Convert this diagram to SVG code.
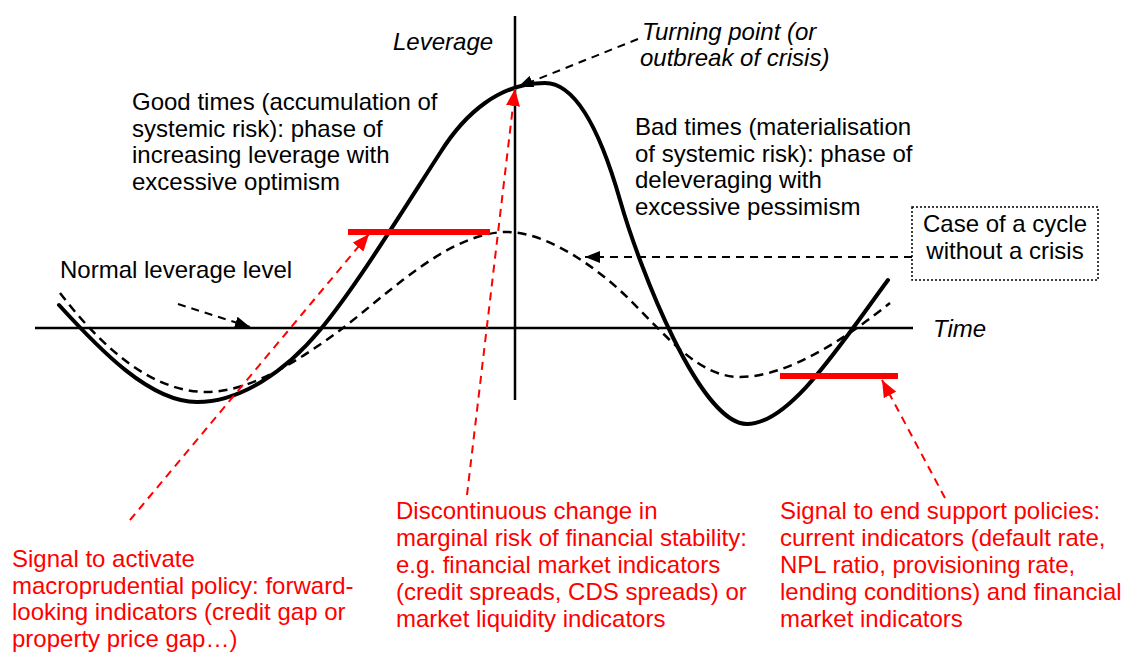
<svg xmlns="http://www.w3.org/2000/svg" width="1123" height="653" viewBox="0 0 1123 653">
<defs>
<style>
.t{font-family:"Liberation Sans",Arial,sans-serif;font-size:24px;fill:#000}
.i{font-style:italic}
.r{fill:#ff0000}
.ax{stroke:#000;stroke-width:2.5;fill:none}
.sc{stroke:#000;stroke-width:4;fill:none;stroke-linecap:round}
.dc{stroke:#000;stroke-width:2.5;fill:none;stroke-dasharray:9 6}
.bd{stroke:#000;stroke-width:2;fill:none;stroke-dasharray:8 6}
.rd{stroke:#ff0000;stroke-width:2;fill:none;stroke-dasharray:8 6}
.bar{stroke:#ff0000;stroke-width:6}
</style>
<marker id="ab" markerUnits="userSpaceOnUse" markerWidth="16" markerHeight="12" refX="15" refY="6" orient="auto"><path d="M0,0 L15,6 L0,12 z" fill="#000"/></marker>
<marker id="ar" markerUnits="userSpaceOnUse" markerWidth="18" markerHeight="14" refX="17" refY="7" orient="auto"><path d="M0,0 L17,7 L0,14 z" fill="#ff0000"/></marker>
</defs>
<rect width="1123" height="653" fill="#fff"/>
<g id="axes">
<line class="ax" x1="35" y1="328" x2="913" y2="328"/>
<line class="ax" x1="515" y1="16" x2="515" y2="400"/>
</g>
<g id="crisis-curve">
<path class="sc" d="M59,305 C100,350 150,402 197,402 C240,402 285,372 320,330 C355,288 400,215 440,153 C465,113 500,83 545,83 C575,83 600,130 620,200 C640,270 700,424 747,424 C790,424 840,345 888,280"/>
</g>
<g id="no-crisis-curve">
<path class="dc" d="M60,293 C100,345 150,392 207,392 C250,392 300,360 343,328 C390,292 450,232 507,232 C545,232 595,265 630,300 C670,340 700,377 740,377 C790,377 850,335 890,303"/>
</g>
<g id="red-bars">
<line class="bar" x1="348" y1="232" x2="490" y2="232"/>
<line class="bar" x1="780" y1="376" x2="898" y2="376"/>
</g>
<g id="connectors">
<line class="bd" x1="178" y1="304" x2="250" y2="327" marker-end="url(#ab)"/>
<line class="bd" x1="638" y1="39" x2="518" y2="87" marker-end="url(#ab)"/>
<line class="bd" x1="912" y1="257" x2="585" y2="257" marker-end="url(#ab)"/>
<line class="rd" x1="130" y1="520" x2="369" y2="234" marker-end="url(#ar)"/>
<line class="rd" x1="467" y1="495" x2="515" y2="89" marker-end="url(#ar)"/>
<line class="rd" x1="945" y1="498" x2="882" y2="380" marker-end="url(#ar)"/>
</g>
<g id="axis-labels">
<text class="t i" x="393" y="50">Leverage</text>
<text class="t i" x="933" y="337">Time</text>
</g>
<g id="turning-point">
<text class="t i" x="642" y="40">Turning point (or</text>
<text class="t i" x="640" y="66">outbreak of crisis)</text>
</g>
<g id="good-times">
<text class="t" x="132" y="110">Good times (accumulation of</text>
<text class="t" x="132" y="137">systemic risk): phase of</text>
<text class="t" x="132" y="163">increasing leverage with</text>
<text class="t" x="132" y="190">excessive optimism</text>
</g>
<g id="bad-times">
<text class="t" x="635" y="135">Bad times (materialisation</text>
<text class="t" x="635" y="162">of systemic risk): phase of</text>
<text class="t" x="635" y="188">deleveraging with</text>
<text class="t" x="635" y="215">excessive pessimism</text>
</g>
<g id="normal-level">
<text class="t" x="60" y="278">Normal leverage level</text>
</g>
<g id="no-crisis-box">
<rect x="912" y="207" width="186" height="73" fill="#fff" stroke="#000" stroke-width="1.5" stroke-dasharray="2 2"/>
<text class="t" x="1005" y="232" text-anchor="middle">Case of a cycle</text>
<text class="t" x="1005" y="259" text-anchor="middle">without a crisis</text>
</g>
<g id="signal-activate">
<text class="t r" x="12" y="567">Signal to activate</text>
<text class="t r" x="12" y="594">macroprudential policy: forward-</text>
<text class="t r" x="12" y="620">looking indicators (credit gap or</text>
<text class="t r" x="12" y="647">property price gap…)</text>
</g>
<g id="discontinuous">
<text class="t r" x="396" y="519">Discontinuous change in</text>
<text class="t r" x="396" y="546">marginal risk of financial stability:</text>
<text class="t r" x="396" y="573">e.g. financial market indicators</text>
<text class="t r" x="396" y="600">(credit spreads, CDS spreads) or</text>
<text class="t r" x="396" y="627">market liquidity indicators</text>
</g>
<g id="signal-end">
<text class="t r" x="780" y="519">Signal to end support policies:</text>
<text class="t r" x="780" y="546">current indicators (default rate,</text>
<text class="t r" x="780" y="573">NPL ratio, provisioning rate,</text>
<text class="t r" x="780" y="600">lending conditions) and financial</text>
<text class="t r" x="780" y="627">market indicators</text>
</g>
</svg>
